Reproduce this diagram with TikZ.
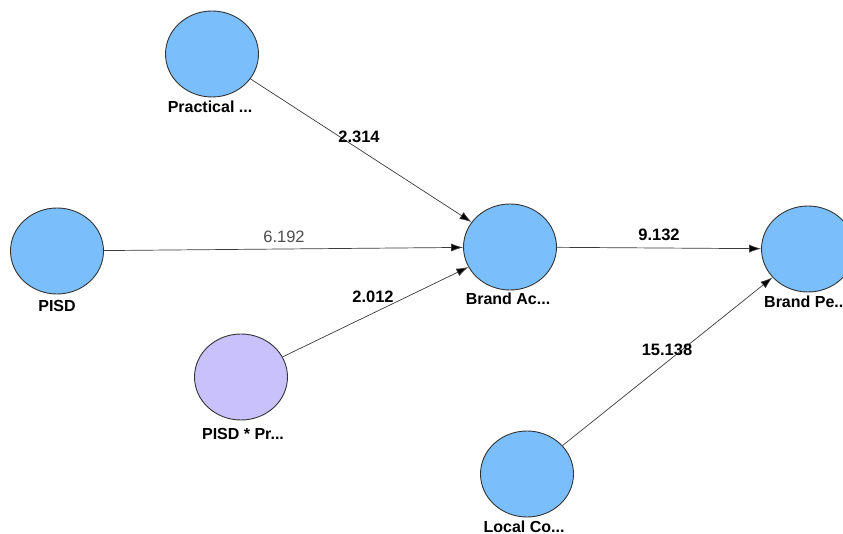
\documentclass[tikz,border=0pt]{standalone}
\usepackage{fontspec}
\setmainfont{Liberation Sans}
\usetikzlibrary{shapes.geometric,arrows.meta}
\definecolor{lvblue}{HTML}{7ABFFC}
\definecolor{lvpurple}{HTML}{C8C1FC}
\definecolor{edgegray}{HTML}{3A3A3A}
\tikzset{
  lv/.style={ellipse,draw=black!80,line width=0.9pt,fill=lvblue,minimum width=93pt,minimum height=86pt,inner sep=0pt},
  lvp/.style={lv,fill=lvpurple},
  lvlabel/.style={font=\fontsize{16}{16}\selectfont\bfseries,inner sep=0pt},
  wt/.style={font=\fontsize{16.5}{16.5}\selectfont\bfseries,inner sep=0pt},
  wtplain/.style={font=\fontsize{16.5}{16.5}\selectfont,text=black!70,inner sep=0pt},
  conn/.style={draw=edgegray,line width=0.7pt,-{Latex[length=12pt,width=8pt,fill=black]}}
}
\begin{document}
\begin{tikzpicture}[x=1pt,y=-1pt]
\useasboundingbox (0,0) rectangle (843,534);
\node[lv] (prac) at (212,54) {};
\node[lv] (pisd) at (57,251) {};
\node[lvp] (mod) at (241,377) {};
\node[lv] (bac) at (510,247) {};
\node[lv] (bpe) at (808,249) {};
\node[lv] (loc) at (527,474) {};
\node[lvlabel] (pracl) at (210,107) {Practical ...};
\node[lvlabel] (pisdl) at (57,306) {PISD};
\node[lvlabel] (modl) at (243,434) {PISD * Pr...};
\node[lvlabel] (bacl) at (508,299) {Brand Ac...};
\node[lvlabel] (bpel) at (806,302) {Brand Pe...};
\node[lvlabel] (locl) at (524,527) {Local Co...};
\draw[conn] (prac) -- (bac);
\draw[conn] (pisd) -- (bac);
\draw[conn] (mod) -- (bac);
\draw[conn] (bac) -- (bpe);
\draw[conn] (loc) -- (bpe);
\node[wt] (w1) at (359,137) {2.314};
\node[wtplain] (w2) at (284,237) {6.192};
\node[wt] (w3) at (373,297) {2.012};
\node[wt] (w4) at (659,235) {9.132};
\node[wt] (w5) at (667,350) {15.138};
\end{tikzpicture}
\end{document}
